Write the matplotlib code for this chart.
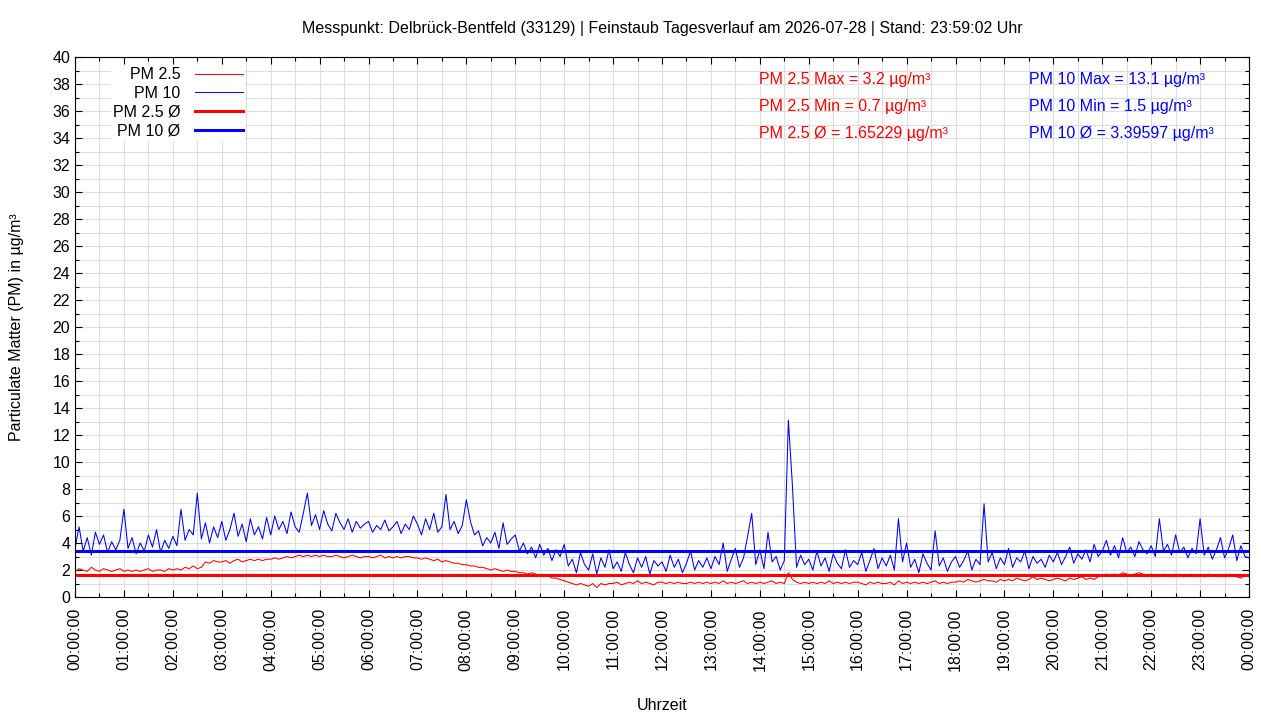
import pandas as pd
import matplotlib
matplotlib.use("Agg")
import matplotlib.pyplot as plt
import matplotlib.dates as mdates
import matplotlib.ticker as mticker

plt.rcParams['font.family'] = ['Liberation Sans', 'DejaVu Sans']

# 5-minute readings, one row per hour
pm10 = [
    3.6, 5.2, 3.4, 4.4, 3.1, 4.8, 3.9, 4.6, 3.3, 4.1, 3.5, 4.2,
    6.5, 3.6, 4.4, 3.2, 4.0, 3.4, 4.6, 3.7, 5.0, 3.3, 4.2, 3.6,
    4.5, 3.8, 6.5, 4.2, 5.0, 4.6, 7.7, 4.3, 5.5, 4.0, 5.2, 4.4,
    5.6, 4.2, 5.0, 6.2, 4.5, 5.4, 4.1, 5.8, 4.6, 5.2, 4.3, 5.9,
    4.6, 6.0, 5.0, 5.6, 4.7, 6.3, 5.2, 4.8, 6.2, 7.7, 5.3, 6.1,
    5.0, 6.4, 5.4, 4.9, 6.2, 5.5, 5.0, 5.8, 4.8, 5.6, 5.1, 5.4,
    5.6, 4.8, 5.3, 5.0, 5.7, 4.9, 5.2, 5.6, 4.7, 5.4, 5.0, 6.0,
    5.4, 4.6, 5.8, 5.0, 6.2, 4.8, 5.2, 7.6, 5.0, 5.6, 4.7, 5.3,
    7.2, 5.6, 4.6, 4.9, 3.8, 4.4, 4.0, 4.8, 3.6, 5.5, 3.9, 4.3,
    4.6, 3.4, 4.0, 3.2, 3.7, 2.9, 3.9, 3.1, 3.6, 2.7, 3.5, 3.0,
    3.9, 2.3, 2.8, 1.8, 3.3, 2.4, 2.0, 3.2, 1.7, 2.9, 2.2, 3.5,
    2.1, 2.6, 1.9, 3.3, 2.4, 1.8, 2.9, 2.2, 3.0, 1.7, 2.7, 2.3,
    2.6, 1.9, 3.1, 2.2, 2.8, 1.8, 2.5, 3.4, 2.0, 2.7, 2.2, 2.9,
    2.1, 3.0, 2.4, 4.0, 1.9, 2.8, 3.6, 2.2, 2.9, 4.5, 6.2, 2.4,
    3.5, 2.1, 4.8, 2.6, 3.0, 2.0, 2.7, 13.1, 8.2, 2.2, 3.1, 2.4,
    2.8, 2.0, 3.4, 2.3, 2.9, 1.9, 3.2, 2.5, 2.1, 3.5, 2.2, 2.7,
    2.4, 3.3, 1.9, 2.7, 3.6, 2.1, 2.9, 2.3, 3.1, 2.0, 5.8, 2.6,
    4.0, 2.2, 2.8, 1.8, 3.2, 2.5, 2.0, 4.9, 2.3, 2.9, 1.9, 2.6,
    3.0, 2.2, 2.7, 3.4, 2.0, 2.8, 2.4, 6.9, 2.6, 3.3, 2.1, 2.9,
    2.4, 3.6, 2.2, 2.9, 2.6, 3.4, 2.1, 3.0, 2.5, 2.8, 2.2, 3.1,
    2.6, 3.3, 2.4, 3.0, 3.7, 2.5, 3.2, 2.8, 3.5, 2.6, 3.9, 3.0,
    3.4, 4.2, 3.1, 3.8, 2.9, 4.4, 3.3, 3.7, 3.0, 4.1, 3.5, 3.2,
    3.8, 3.0, 5.8, 3.4, 3.9, 3.1, 4.6, 3.3, 3.7, 2.9, 3.6, 3.2,
    5.8, 3.1, 3.7, 2.8, 3.5, 4.4, 2.9, 3.6, 4.6, 2.7, 3.8, 3.0,
    2.9,
]

pm25 = [
    1.9, 2.1, 2.0, 1.9, 2.2, 2.0, 1.9, 2.1, 2.0, 1.9, 2.0, 2.1,
    1.9, 2.0, 1.9, 2.0, 1.9, 2.0, 2.1, 1.9, 2.0, 2.0, 1.9, 2.1,
    2.0, 2.1, 2.0, 2.2, 2.1, 2.3, 2.1, 2.2, 2.6, 2.5, 2.7, 2.6,
    2.6, 2.7, 2.5, 2.7, 2.8, 2.6, 2.7, 2.8, 2.7, 2.8, 2.7, 2.8,
    2.8, 2.9, 2.8, 2.9, 3.0, 2.9, 3.0, 3.1, 3.0, 3.1, 3.0, 3.1,
    3.0, 3.1, 3.0, 3.0, 3.1, 3.0, 2.9, 3.0, 3.1, 3.0, 2.9, 3.0,
    3.0, 2.9, 3.0, 3.1, 2.9, 3.0, 2.9, 3.0, 2.9, 3.0, 3.0, 2.9,
    2.9, 2.8, 2.9, 2.8, 2.7, 2.8, 2.6, 2.7, 2.6, 2.5, 2.5, 2.4,
    2.4, 2.3, 2.3, 2.2, 2.2, 2.1, 2.0, 2.1, 2.0, 1.9, 2.0, 1.9,
    1.9, 1.8, 1.8, 1.7, 1.8, 1.7, 1.6, 1.5, 1.6, 1.4, 1.4, 1.3,
    1.2, 1.1, 1.0, 0.9, 1.0, 0.9, 0.8, 1.0, 0.7, 1.0, 0.9, 1.0,
    1.0, 1.1, 0.9, 1.0, 1.1, 1.0, 1.2, 1.0, 1.1, 1.0, 0.9, 1.1,
    1.1, 1.0, 1.1, 1.0, 1.1, 1.0, 1.0, 1.1, 1.0, 1.1, 1.0, 1.1,
    1.0, 1.1, 1.0, 1.2, 1.0, 1.1, 1.0, 1.1, 1.2, 1.0, 1.1, 1.0,
    1.1, 1.0, 1.1, 1.2, 1.0, 1.1, 1.0, 1.8, 1.3, 1.1, 1.0, 1.1,
    1.0, 1.1, 1.0, 1.1, 1.0, 1.2, 1.0, 1.1, 1.0, 1.1, 1.0, 1.1,
    1.1, 1.0, 0.9, 1.1, 1.0, 1.1, 1.0, 1.0, 1.1, 0.9, 1.2, 1.0,
    1.1, 1.0, 1.1, 1.0, 1.1, 1.0, 1.1, 1.2, 1.0, 1.1, 1.0, 1.1,
    1.1, 1.2, 1.1, 1.3, 1.2, 1.1, 1.2, 1.3, 1.2, 1.2, 1.1, 1.3,
    1.2, 1.3, 1.2, 1.4, 1.3, 1.2, 1.3, 1.5, 1.3, 1.4, 1.3, 1.2,
    1.3, 1.4, 1.3, 1.2, 1.4, 1.3, 1.4, 1.5, 1.3, 1.4, 1.3, 1.5,
    1.6, 1.7, 1.6, 1.7, 1.6, 1.8, 1.7, 1.6, 1.7, 1.8, 1.7, 1.6,
    1.7, 1.6, 1.5, 1.7, 1.6, 1.5, 1.7, 1.6, 1.5, 1.6, 1.7, 1.5,
    1.6, 1.5, 1.7, 1.6, 1.5, 1.6, 1.5, 1.7, 1.6, 1.5, 1.4, 1.6,
    1.5,
]

# daily statistics as printed on the chart
pm25_max, pm25_min, pm25_avg = 3.2, 0.7, 1.65229
pm10_max, pm10_min, pm10_avg = 13.1, 1.5, 3.39597

times = pd.date_range("2026-07-28 00:00", periods=len(pm10), freq="5min")
df = pd.DataFrame({"Date": times, "PM 2.5": pm25, "PM 10": pm10})

fig = plt.figure(figsize=(12.8, 7.2), dpi=100)
ax = fig.add_axes([0.0586, 0.1708, 0.9172, 0.75])

ax.plot(df["Date"], df["PM 2.5"], color="#ff0000", lw=0.75, label="PM 2.5")
ax.plot(df["Date"], df["PM 10"], color="#0000ff", lw=0.75, label="PM 10")
ax.axhline(pm25_avg, color="#ff0000", lw=2.2, label="PM 2.5 Ø")
ax.axhline(pm10_avg, color="#0000ff", lw=2.2, label="PM 10 Ø")

start = pd.Timestamp("2026-07-28 00:00")
ax.set_xlim(start, start + pd.Timedelta(hours=24))
ax.set_ylim(0, 40)

ax.xaxis.set_major_locator(mdates.HourLocator(interval=1))
ax.xaxis.set_minor_locator(mdates.MinuteLocator(byminute=[30]))
ax.xaxis.set_major_formatter(mdates.DateFormatter("%H:%M:%S"))
ax.yaxis.set_major_locator(mticker.MultipleLocator(2))
ax.yaxis.set_minor_locator(mticker.MultipleLocator(1))

ax.grid(True, which="both", color="#dddddd", lw=0.8)
ax.set_axisbelow(True)
ax.tick_params(which="both", direction="in", top=True, right=True, labelsize=11.5, colors="black")
ax.tick_params(which="major", length=5, width=0.8)
ax.tick_params(which="minor", length=3, width=0.8)
plt.setp(ax.get_xticklabels(), rotation=90)
ax.tick_params(axis="x", pad=8)
for s in ax.spines.values():
    s.set_linewidth(0.8)

ax.set_title("Messpunkt: Delbrück-Bentfeld (33129) | Feinstaub Tagesverlauf am 2026-07-28 | Stand: 23:59:02 Uhr",
             fontsize=11.5, pad=17)
ax.set_xlabel("Uhrzeit", fontsize=11.5, labelpad=20)
ax.set_ylabel("Particulate Matter (PM) in µg/m³", fontsize=11.5, labelpad=20)

leg = ax.legend(loc="upper left", bbox_to_anchor=(0.0235, 1.0), markerfirst=False, frameon=True,
                fontsize=11.5, handlelength=3.0, labelspacing=0.23, borderpad=0.15,
                handletextpad=0.9, fancybox=False)
leg.get_frame().set_facecolor("white")
leg.get_frame().set_edgecolor("none")
leg.get_frame().set_alpha(1)

red_txt = [f"PM 2.5 Max = {pm25_max} µg/m³", f"PM 2.5 Min = {pm25_min} µg/m³", f"PM 2.5 Ø = {pm25_avg} µg/m³"]
blue_txt = [f"PM 10 Max = {pm10_max} µg/m³", f"PM 10 Min = {pm10_min} µg/m³", f"PM 10 Ø = {pm10_avg} µg/m³"]
for i, (r, b) in enumerate(zip(red_txt, blue_txt)):
    y = 0.959 - i * 0.05
    ax.text(0.5826, y, r, color="#ff0000", fontsize=11.5, transform=ax.transAxes, va="center")
    ax.text(0.8126, y, b, color="#0000ff", fontsize=11.5, transform=ax.transAxes, va="center")

fig.savefig("out.png", dpi=100)
